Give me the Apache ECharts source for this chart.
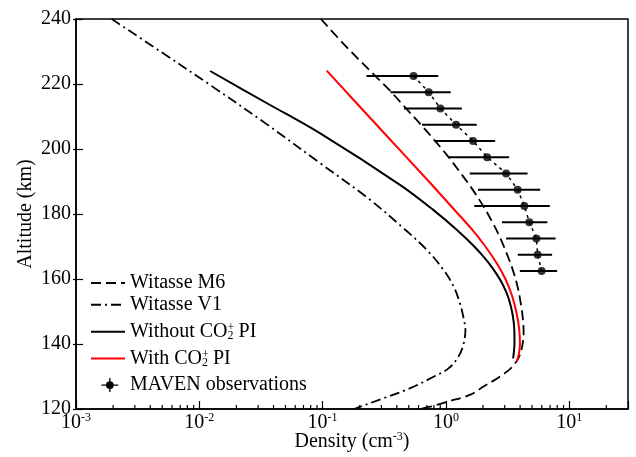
<!DOCTYPE html>
<html>
<head>
<meta charset="UTF-8">
<title></title>
<script src="https://cdn.jsdelivr.net/npm/echarts@6/dist/echarts.min.js"></script>
<style>
  html, body { margin: 0; padding: 0; background: #fff; }
  #chart { width: 636px; height: 457px; }
</style>
</head>
<body>
<div id="chart"></div>
<script>
var FONT = 'Liberation Serif';

// model curves: [density cm^-3, altitude km]
var witasseM6 = [[0.097,240],[0.158,231.2],[0.267,222.5],[0.361,217.5],[0.475,212.5],[0.627,207.5],
  [0.817,202.5],[1.052,197.5],[1.324,192.5],[1.648,187.5],[2.005,182.5],[2.382,177.5],[2.767,172.5],
  [3.14,167.5],[3.51,162.5],[3.82,157.5],[4.05,152.5],[4.22,147.5],[4.27,143.5],[4.17,139.5],
  [3.92,136],[3.6,133.8],[3.2,131.8],[2.6,129.4],[2.02,126.9],[1.58,124.4],[1.02,122.2],
  [0.746,120.7],[0.62,120]];
var witasseV1 = [[0.00195,240],[0.00484,230],[0.01225,219.7],[0.0356,207.5],[0.0957,195.6],
  [0.231,185],[0.454,175.6],[0.703,168.9],[0.957,162.8],[1.16,157.6],[1.3,152.5],[1.4,147.5],
  [1.44,144.3],[1.38,139.5],[1.25,135.8],[1.05,132.5],[0.794,129.9],[0.514,126.4],[0.312,123.3],
  [0.202,120.7],[0.18,120]];
var withoutPI = [[0.01225,224],[0.0357,214],[0.0957,204.8],[0.427,188.9],[0.794,181.2],
  [1.23,175.1],[1.7,170],[2.19,165.3],[2.58,161.5],[2.92,158],[3.23,154],[3.48,149],[3.59,144.3],
  [3.6,140.2],[3.56,137.5],[3.51,135.6]];
var withPI = [[0.108,224.1],[0.314,205],[0.728,190],[1.127,182],[1.64,175.1],[2.09,170],[2.57,165],
  [3.04,160],[3.43,155],[3.72,150],[3.92,145],[3.99,140],[3.91,137],[3.76,134.6]];

// MAVEN observations
var mavenAlt = [222.5, 217.5, 212.5, 207.5, 202.5, 197.5, 192.5, 187.5, 182.5, 177.5, 172.5, 167.5, 162.5];
var mavenDens = [0.547, 0.725, 0.902, 1.21, 1.66, 2.16, 3.08, 3.82, 4.33, 4.75, 5.42, 5.55, 5.98];
var mavenErr = [0.32, 0.37, 0.445, 0.57, 0.85, 1.1, 1.52, 2.0, 2.63, 1.9, 2.34, 1.72, 2.0];

// axes
var xMin = 0.001, xMax = 30;
var yMin = 120, yMax = 240, yStep = 20;
var minorTicks = [];
[0.001, 0.01, 0.1, 1, 10].forEach(function (d) {
  for (var k = 2; k <= 9; k++) {
    if (d * k < xMax) minorTicks.push(d * k);
  }
});

var mavenPts = mavenDens.map(function (d, i) { return [d, mavenAlt[i]]; });
var mavenBars = mavenDens.map(function (d, i) { return [d - mavenErr[i], d + mavenErr[i], mavenAlt[i]]; });

var mavenIcon = 'path://M0,0h0.01v0.01h-0.01Z M34,15h0.01v0.01h-0.01Z ' +
  'M10,6.8H28V8.2H10Z M18.3,0H19.7V15H18.3Z ' +
  'M19,3.3A4.2,4.2 0 1,1 19,11.7A4.2,4.2 0 1,1 19,3.3Z';

var myChart = echarts.init(document.getElementById('chart'));

var legendText = {
  fontFamily: FONT, fontSize: 20, lineHeight: 20, color: '#000',
  rich: {
    sup: { fontFamily: FONT, fontSize: 12, verticalAlign: 'top', lineHeight: 20, width: 0 },
    sub: { fontFamily: FONT, fontSize: 12, verticalAlign: 'bottom', lineHeight: 20 }
  }
};
function legendFmt(name) {
  return name.replace('CO₂⁺', 'CO{sup|+}{sub|2}');
}

var option = {
  animation: false,
  backgroundColor: '#fff',
  grid: { left: 76, right: 8, top: 19, bottom: 48, show: true, borderColor: '#000', borderWidth: 1.5,
    containLabel: false, outerBoundsMode: 'none' },
  legend: [
    {
      orient: 'vertical', left: 90, top: 273, padding: 0, itemGap: 1.7,
      itemWidth: 34, itemHeight: 14, selectedMode: false,
      itemStyle: { opacity: 0 },
      textStyle: legendText, formatter: legendFmt,
      data: ['Witasse M6', 'Witasse V1']
    },
    {
      orient: 'vertical', left: 90, top: 321.7, padding: 0, itemGap: 6.7,
      itemWidth: 34, itemHeight: 14, selectedMode: false,
      itemStyle: { opacity: 0 },
      textStyle: legendText, formatter: legendFmt,
      data: ['Without CO₂⁺ PI', 'With CO₂⁺ PI',
        { name: 'MAVEN observations', icon: mavenIcon, itemStyle: { color: '#000', opacity: 1 } }]
    }
  ],
  xAxis: {
    type: 'log', logBase: 10, min: xMin, max: xMax,
    name: 'Density (cm{sup|-3})', nameLocation: 'middle', nameGap: 22, nameMoveOverlap: false,
    nameTextStyle: {
      fontFamily: FONT, fontSize: 20, color: '#000', lineHeight: 22,
      rich: { sup: { fontFamily: FONT, fontSize: 12, verticalAlign: 'top', lineHeight: 22 } }
    },
    axisLine: { lineStyle: { color: '#000', width: 1.5 } },
    axisTick: { inside: true, length: 8, lineStyle: { color: '#000', width: 1.2 } },
    splitLine: { show: false },
    axisLabel: {
      margin: 3, color: '#000', fontFamily: FONT, fontSize: 20, lineHeight: 22,
      formatter: function (v) {
        var e = Math.log10(v), r = Math.round(e);
        if (Math.abs(e - r) > 1e-6) return '';
        return '10{sup|' + r + '}';
      },
      rich: { sup: { fontFamily: FONT, fontSize: 12, verticalAlign: 'top', lineHeight: 22 } }
    }
  },
  yAxis: [
    {
      type: 'value', min: yMin, max: yMax, interval: yStep,
      name: 'Altitude (km)', nameLocation: 'middle', nameGap: 40, nameMoveOverlap: false,
      nameTextStyle: { fontFamily: FONT, fontSize: 20, color: '#000' },
      axisLine: { lineStyle: { color: '#000', width: 1.5 } },
      axisTick: { inside: true, length: 7, lineStyle: { color: '#000', width: 1.2 } },
      splitLine: { show: false },
      axisLabel: { margin: 5, color: '#000', fontFamily: FONT, fontSize: 20 }
    },
    {
      type: 'value', min: yMin, max: yMax, interval: yStep, position: 'left',
      axisLine: { show: false },
      axisTick: { inside: false, length: 3, lineStyle: { color: '#000', width: 1.2 } },
      axisLabel: { show: false },
      splitLine: { show: false }
    }
  ],
  series: [
    {
      name: 'Witasse M6', type: 'line', data: witasseM6, smooth: 0.35, symbol: 'none',
      lineStyle: { color: '#000', width: 1.8, type: [10, 5] }, itemStyle: { color: '#000' }
    },
    {
      name: 'Witasse V1', type: 'line', data: witasseV1, smooth: 0.35, symbol: 'none',
      lineStyle: { color: '#000', width: 1.8, type: [10, 4, 2, 4] }, itemStyle: { color: '#000' }
    },
    {
      name: 'Without CO₂⁺ PI', type: 'line', data: withoutPI, smooth: 0.35, symbol: 'none',
      lineStyle: { color: '#000', width: 2 }, itemStyle: { color: '#000' }
    },
    {
      name: 'With CO₂⁺ PI', type: 'line', data: withPI, smooth: 0.35, symbol: 'none',
      lineStyle: { color: '#ff0000', width: 2 }, itemStyle: { color: '#ff0000' }
    },
    {
      name: 'MAVEN observations', type: 'line', data: mavenPts, symbol: 'none',
      lineStyle: { color: '#000', width: 1.5, type: [3, 4] }, itemStyle: { color: '#000' }
    },
    {
      name: 'MAVEN observations', type: 'custom', data: mavenBars, encode: { x: [0, 1], y: 2 },
      renderItem: function (params, api) {
        var a = api.coord([api.value(0), api.value(2)]);
        var b = api.coord([api.value(1), api.value(2)]);
        return { type: 'line', shape: { x1: a[0], y1: a[1], x2: b[0], y2: b[1] },
          style: { stroke: '#000', lineWidth: 2 } };
      },
      itemStyle: { color: '#000' }, z: 3
    },
    {
      name: 'MAVEN observations', type: 'scatter', data: mavenPts, symbol: 'circle', symbolSize: 8,
      itemStyle: { color: '#000' }, z: 4
    },
    {
      name: 'minor', type: 'custom', silent: true, clip: false,
      data: minorTicks.map(function (v) { return [v, yMin]; }), encode: { x: 0, y: 1 },
      renderItem: function (params, api) {
        var p = api.coord([api.value(0), api.value(1)]);
        return { type: 'line', shape: { x1: p[0], y1: p[1], x2: p[0], y2: p[1] - 4 },
          style: { stroke: '#000', lineWidth: 1.2 } };
      }
    }
  ]
};
myChart.setOption(option);
</script>
</body>
</html>
